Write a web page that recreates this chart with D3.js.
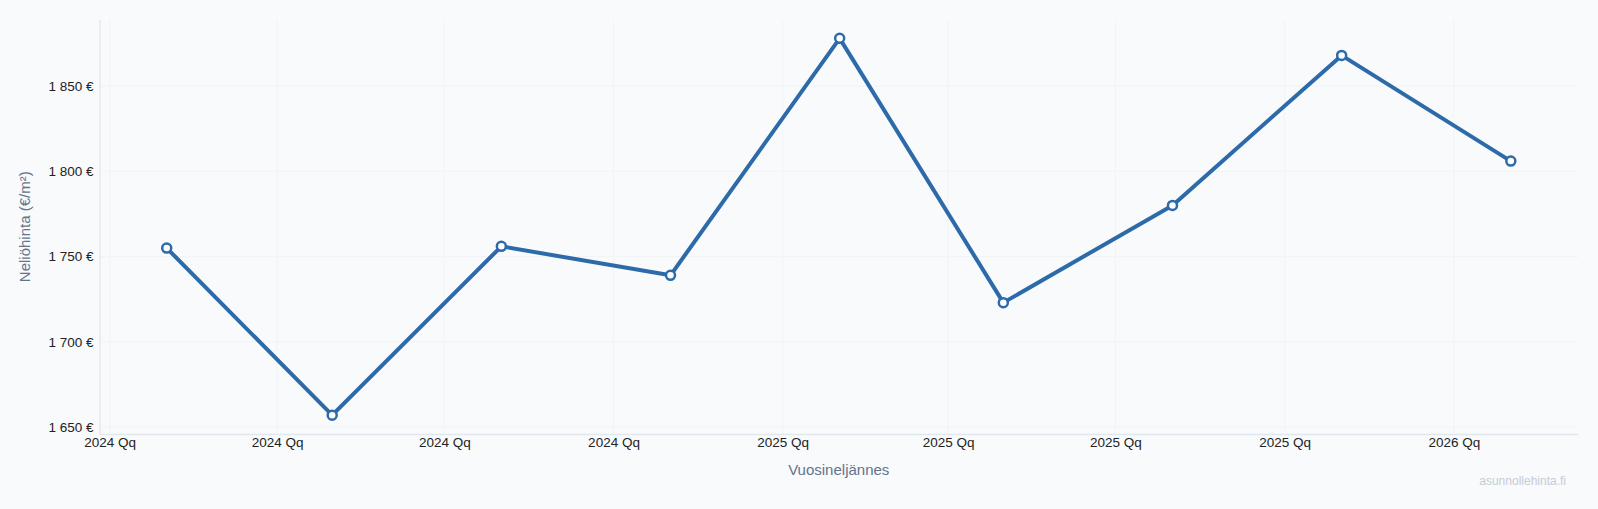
<!DOCTYPE html>
<html>
<head>
<meta charset="utf-8">
<script src="https://cdn.jsdelivr.net/npm/d3@7"></script>
<style>
  html, body { margin: 0; padding: 0; background: #f8fafc; }
  svg { display: block; font-family: "Liberation Sans", Arial, Helvetica, sans-serif; }
</style>
</head>
<body>
<svg id="chart" width="1598" height="509"></svg>
<script>
// Data
const dates = ["2024-02-01", "2024-05-01", "2024-08-01", "2024-11-01", "2025-02-01", "2025-05-01", "2025-08-01", "2025-11-01", "2026-02-01"];
const prices = [1755, 1657, 1756, 1739, 1878, 1723, 1780, 1868, 1806];
const yTickValues = [1650, 1700, 1750, 1800, 1850];
const xTickLabelSuffix = "Qq";
const xTitle = "Vuosineljännes";
const yTitle = "Neliöhinta (€/m²)";
const watermark = "asunnollehinta.fi";

const W = 1598, H = 509;
const margin = { left: 99.5, right: 20, top: 19.5, bottom: 75 };
const svg = d3.select("#chart");
svg.append("rect").attr("width", W).attr("height", H).attr("fill", "#f8fafc");

const parse = d3.utcParse("%Y-%m-%d");
const data = dates.map((d, i) => ({ date: parse(d), value: prices[i] }));

const [d0, d1] = d3.extent(data, d => d.date);
const pad = (d1 - d0) * 0.05;
const x = d3.scaleUtc()
  .domain([new Date(+d0 - pad), new Date(+d1 + pad)])
  .range([margin.left, W - margin.right]);

const [v0, v1] = d3.extent(prices);
const vpad = (v1 - v0) * 0.05;
const y = d3.scaleLinear()
  .domain([v0 - vpad, v1 + vpad])
  .range([H - margin.bottom, margin.top]);

const xTicks = d3.utcMonth.every(3).range(x.domain()[0], x.domain()[1]);

// grid
const grid = svg.append("g");
grid.selectAll("line.v").data(xTicks).join("line")
  .attr("x1", d => x(d)).attr("x2", d => x(d))
  .attr("y1", margin.top).attr("y2", H - margin.bottom)
  .attr("stroke", "#f1f4f8").attr("stroke-width", 1);
grid.selectAll("line.h").data(yTickValues).join("line")
  .attr("x1", margin.left).attr("x2", W - margin.right)
  .attr("y1", d => y(d)).attr("y2", d => y(d))
  .attr("stroke", "#f1f4f8").attr("stroke-width", 1);

// axes
const fmtNum = v => d3.format(",")(v).replace(/,/g, " ") + " €";
const yAxis = svg.append("g")
  .attr("transform", `translate(${margin.left},0)`)
  .call(d3.axisLeft(y).tickValues(yTickValues).tickSize(0).tickPadding(6).tickFormat(fmtNum));
yAxis.select(".domain").attr("stroke", "#e2e8f0").attr("stroke-width", 1.5);
yAxis.selectAll("text").attr("font-size", 13.5).attr("fill", "#222").attr("font-family", "Liberation Sans, Arial, sans-serif");

const xAxis = svg.append("g")
  .attr("transform", `translate(0,${H - margin.bottom})`)
  .call(d3.axisBottom(x).tickValues(xTicks).tickSize(0).tickPadding(3)
    .tickFormat(d => d3.utcFormat("%Y")(d) + " " + xTickLabelSuffix));
xAxis.select(".domain").attr("stroke", "#e2e8f0").attr("stroke-width", 1.5);
xAxis.selectAll("text").attr("font-size", 13.5).attr("fill", "#222").attr("font-family", "Liberation Sans, Arial, sans-serif");

// titles
svg.append("text")
  .attr("x", (margin.left + W - margin.right) / 2).attr("y", 475)
  .attr("text-anchor", "middle").attr("font-size", 15).attr("fill", "#64748b")
  .text(xTitle);
svg.append("text")
  .attr("transform", `translate(30,${(margin.top + H - margin.bottom) / 2}) rotate(-90)`)
  .attr("text-anchor", "middle").attr("font-size", 15).attr("fill", "#64748b")
  .text(yTitle);
svg.append("text")
  .attr("x", 1566).attr("y", 485)
  .attr("text-anchor", "end").attr("font-size", 12).attr("fill", "#c5ccd6")
  .text(watermark);

// line
const color = "#2d6aa9";
const line = d3.line().x(d => x(d.date)).y(d => y(d.value));
svg.append("path").datum(data)
  .attr("d", line).attr("fill", "none")
  .attr("stroke", color).attr("stroke-width", 4)
  .attr("stroke-linejoin", "round").attr("stroke-linecap", "round");

svg.append("g").selectAll("circle").data(data).join("circle")
  .attr("cx", d => x(d.date)).attr("cy", d => y(d.value))
  .attr("r", 4.5).attr("fill", "#fff")
  .attr("stroke", color).attr("stroke-width", 2.5);
</script>
</body>
</html>
